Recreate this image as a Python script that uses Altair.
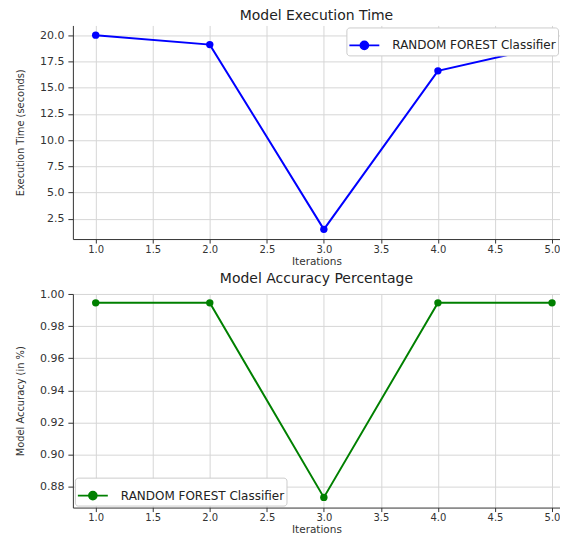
import altair as alt
import pandas as pd

iterations = [1, 2, 3, 4, 5]
exec_time = [20.0, 19.1, 1.5, 16.6, 19.05]
accuracy = [0.9945, 0.9945, 0.8733, 0.9945, 0.9945]
series = "RANDOM FOREST Classifier"

x_ticks = [1.0, 1.5, 2.0, 2.5, 3.0, 3.5, 4.0, 4.5, 5.0]
time_ticks = [2.5, 5.0, 7.5, 10.0, 12.5, 15.0, 17.5, 20.0]
acc_ticks = [0.88, 0.90, 0.92, 0.94, 0.96, 0.98, 1.00]

df_t = pd.DataFrame({"Iterations": iterations, "Value": exec_time, "Model": series})
df_a = pd.DataFrame({"Iterations": iterations, "Value": accuracy, "Model": series})

FONT = "DejaVu Sans"
NARROW = "Liberation Sans Narrow, DejaVu Sans Condensed, Roboto Condensed, sans-serif"
SYMBOL = "M-1,0L1,0M-0.27,0A0.27,0.27 0 1 1 0.27,0A0.27,0.27 0 1 1 -0.27,0Z"


def panel(df, ytitle, ydomain, yticks, yfmt, color, title, orient):
    xenc = alt.X(
        "Iterations:Q",
        scale=alt.Scale(domain=[0.8, 5.07], nice=False, zero=False),
        axis=alt.Axis(values=x_ticks, format=".1f", title="Iterations",
                      labelFontSize=10, tickSize=4, labelPadding=1,
                      titleFontSize=10.5, titlePadding=2),
    )
    yenc = alt.Y(
        "Value:Q",
        scale=alt.Scale(domain=ydomain, nice=False, zero=False),
        axis=alt.Axis(values=yticks, format=yfmt, title=ytitle, tickSize=5,
                      labelPadding=4, labelFontSize=11,
                      titleFont=NARROW, titleFontSize=11, titleFontWeight="normal",
                      titlePadding=14),
    )
    cenc = alt.Color(
        "Model:N",
        scale=alt.Scale(domain=[series], range=[color]),
        legend=alt.Legend(
            title=None, orient=orient, offset=2,
            symbolType=SYMBOL, symbolSize=900,
            symbolFillColor=color, symbolStrokeColor=color, symbolStrokeWidth=1.6,
            labelFont=FONT, labelFontSize=12, labelColor="#222", labelLimit=400,
            fillColor="white", strokeColor="#cccccc", cornerRadius=3,
            padding=2, labelOffset=12,
        ),
    )
    base = alt.Chart(df).encode(x=xenc, y=yenc, color=cenc)
    line = base.mark_line(strokeWidth=2)
    pts = base.mark_circle(size=55, opacity=1)
    return alt.layer(line, pts).properties(
        width=488, height=214,
        title=alt.TitleParams(title, font=FONT, fontSize=14, fontWeight="normal",
                              color="#222", offset=2),
    )


top = panel(df_t, "Execution Time (seconds)", [0.575, 20.925], time_ticks, ".1f",
            "#0000ff", "Model Execution Time", "top-right")
bottom = panel(df_a, "Model Accuracy (in %)", [0.86695, 1.00005], acc_ticks, ".2f",
               "#008000", "Model Accuracy Percentage", "bottom-left")

chart = (
    alt.vconcat(top, bottom, spacing=5)
    .resolve_scale(color="independent")
    .properties(padding={"left": 6, "top": 1, "right": 0, "bottom": 0})
    .configure_view(stroke=None)
    .configure_axis(
        domainColor="#333", tickColor="#333", gridColor="#d6d6d6",
        labelFont=FONT, labelFontSize=11, labelColor="#333",
        titleFont=FONT, titleFontSize=11, titleFontWeight="normal", titleColor="#333",
        titlePadding=3,
    )
)

chart.save("out.html", embed_options={"renderer": "svg", "actions": False})
